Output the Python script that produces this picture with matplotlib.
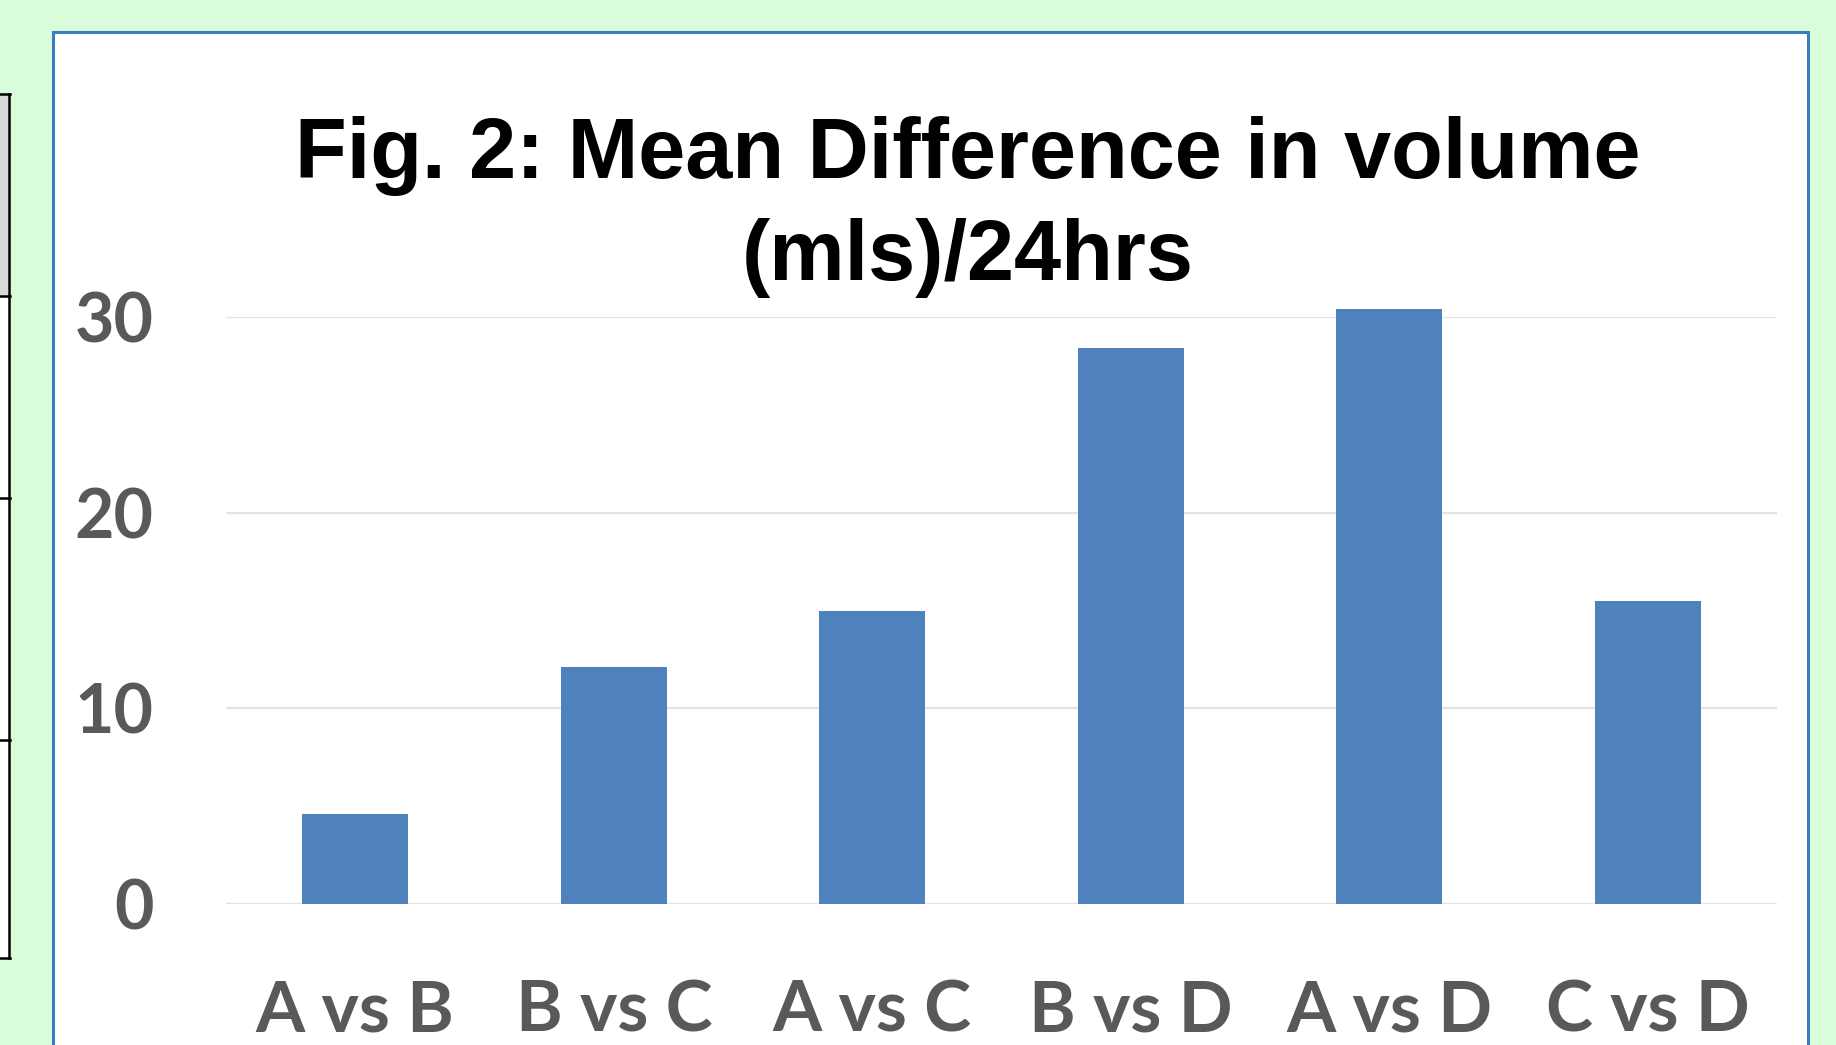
import matplotlib
matplotlib.use("Agg")
import matplotlib.pyplot as plt
from matplotlib.patches import Rectangle
from matplotlib.lines import Line2D

categories = ["A vs B", "B vs C", "A vs C", "B vs D", "A vs D", "C vs D"]
values = [4.6, 12.1, 15.0, 28.4, 30.4, 15.5]
yticks = [0, 10, 20, 30]
title = "Fig. 2: Mean Difference in volume\n(mls)/24hrs"

W, H = 1836, 1045
fig = plt.figure(figsize=(W / 100, H / 100), dpi=100)
fig.patch.set_facecolor("#d9fdda")

def fx(px):
    return px / W

def fy(py):
    return 1 - py / H

# Partial table at left edge
fig.add_artist(Rectangle((0, fy(296)), fx(9), fy(94) - fy(296), transform=fig.transFigure,
                         facecolor="#d9d9d9", edgecolor="none", zorder=0.1))
fig.add_artist(Rectangle((0, fy(958)), fx(9), fy(296) - fy(958), transform=fig.transFigure,
                         facecolor="white", edgecolor="none", zorder=0.1))
for yy in [94, 296, 498, 740, 958]:
    fig.add_artist(Line2D([0, fx(10)], [fy(yy), fy(yy)], transform=fig.transFigure,
                          color="black", lw=1.8, zorder=0.2))
fig.add_artist(Line2D([fx(9), fx(9)], [fy(94), fy(958)], transform=fig.transFigure,
                      color="black", lw=1.8, zorder=0.2))

# White chart panel with blue border
fig.add_artist(Rectangle((fx(53), fy(1060)), fx(1808 - 53), fy(32) - fy(1060),
                         transform=fig.transFigure, facecolor="white",
                         edgecolor="#3a7dc0", lw=2.2, zorder=0.1))

ax = fig.add_axes([fx(226), fy(904), fx(1777 - 226), fy(317) - fy(904)])
ax.set_zorder(2)
ax.set_facecolor("none")
x = range(len(categories))
ax.bar(x, values, width=0.41, color="#4f81bd", zorder=3, clip_on=False)
ax.set_xlim(-0.5, len(categories) - 0.5)
ax.set_ylim(0, 30)
ax.set_yticks(yticks)
ax.set_xticks(list(x))
ax.set_xticklabels(categories)
for s in ax.spines.values():
    s.set_visible(False)
ax.grid(axis="y", color="#e3e3e3", lw=1.6, zorder=0)
ax.set_axisbelow(True)
ax.tick_params(length=0)
ax.tick_params(axis="y", pad=52)
ax.tick_params(axis="x", pad=54)
for lab in ax.get_yticklabels():
    lab.set_fontfamily("Lato")
    lab.set_fontweight("bold")
    lab.set_color("#595959")
    lab.set_fontsize(49)
for lab in ax.get_xticklabels():
    lab.set_fontfamily("Lato")
    lab.set_fontweight("bold")
    lab.set_color("#595959")
    lab.set_fontsize(51)

fig.text(fx(968), fy(207), title, ha="center", va="center", fontsize=61,
         fontweight="bold", family="Liberation Sans", linespacing=1.36, color="black",
         zorder=3)

fig.savefig("out.png", dpi=100, facecolor=fig.get_facecolor())
